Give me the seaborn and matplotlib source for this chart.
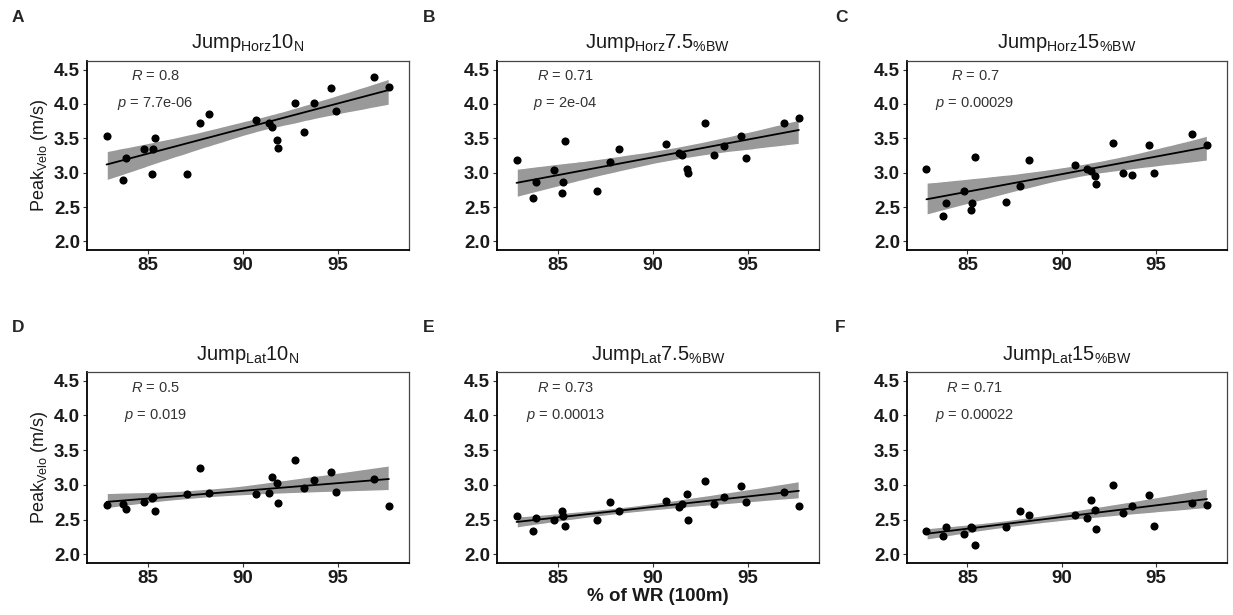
import numpy as np
import pandas as pd
import matplotlib
matplotlib.use("Agg")
import matplotlib.pyplot as plt
from matplotlib.collections import PolyCollection
import seaborn as sns

# % of world record (100m) for each athlete, shared by all panels
wr_pct = [82.83, 83.71, 83.87, 84.82, 85.21, 85.26, 85.40, 87.04, 87.76, 88.24, 90.72,
          91.36, 91.55, 91.78, 91.83, 92.73, 93.24, 93.73, 94.63, 94.89, 96.90, 97.69]

# peak velocity (m/s) per condition
horz_10n = [3.54, 2.90, 3.21, 3.35, 2.98, 3.35, 3.50, 2.98, 3.72, 3.85, 3.76,
            3.73, 3.67, 3.48, 3.36, 4.02, 3.59, 4.01, 4.23, 3.90, 4.39, 4.25]
horz_75 = [3.19, 2.63, 2.87, 3.04, 2.71, 2.86, 3.46, 2.74, 3.15, 3.35, 3.42,
           3.28, 3.26, 3.06, 3.00, 3.73, 3.26, 3.39, 3.53, 3.21, 3.72, 3.80]
horz_15 = [3.06, 2.37, 2.56, 2.74, 2.45, 2.56, 3.23, 2.58, 2.81, 3.19, 3.11,
           3.05, 3.03, 2.95, 2.84, 3.43, 2.99, 2.97, 3.40, 3.00, 3.56, 3.41]
lat_10n = [2.71, 2.72, 2.65, 2.75, 2.81, 2.83, 2.63, 2.87, 3.24, 2.89, 2.87,
           2.89, 3.12, 3.02, 2.74, 3.36, 2.95, 3.07, 3.19, 2.90, 3.09, 2.70]
lat_75 = [2.55, 2.33, 2.52, 2.49, 2.62, 2.55, 2.41, 2.50, 2.75, 2.63, 2.77,
          2.68, 2.73, 2.87, 2.50, 3.06, 2.73, 2.83, 2.99, 2.75, 2.90, 2.70]
lat_15 = [2.34, 2.26, 2.40, 2.29, 2.40, 2.38, 2.14, 2.39, 2.62, 2.56, 2.56,
          2.53, 2.78, 2.64, 2.36, 3.00, 2.59, 2.70, 2.86, 2.41, 2.74, 2.71]

titles = [r"Jump$_{\mathrm{Horz}}$10$_{\mathrm{N}}$",
          r"Jump$_{\mathrm{Horz}}$7.5$_{\mathrm{\%BW}}$",
          r"Jump$_{\mathrm{Horz}}$15$_{\mathrm{\%BW}}$",
          r"Jump$_{\mathrm{Lat}}$10$_{\mathrm{N}}$",
          r"Jump$_{\mathrm{Lat}}$7.5$_{\mathrm{\%BW}}$",
          r"Jump$_{\mathrm{Lat}}$15$_{\mathrm{\%BW}}$"]
letters = ["A", "B", "C", "D", "E", "F"]
r_labels = ["0.8", "0.71", "0.7", "0.5", "0.73", "0.71"]
p_labels = ["7.7e-06", "2e-04", "0.00029", "0.019", "0.00013", "0.00022"]
series = [horz_10n, horz_75, horz_15, lat_10n, lat_75, lat_15]

sns.set_theme(style="white")
plt.rcParams["font.family"] = ["Liberation Sans", "DejaVu Sans"]
plt.rcParams["mathtext.fontset"] = "custom"
plt.rcParams["mathtext.rm"] = "Liberation Sans"
plt.rcParams["mathtext.it"] = "Liberation Sans:italic"

W, H = 1233, 615
fig = plt.figure(figsize=(W / 100, H / 100), dpi=100)

col_left = [87, 497, 907]
col_w = [322, 322, 320]
row_top = [61, 372]
row_h = [189, 191]
letter_x = [12, 423, 835]
letter_y = [18, 328]

for i in range(6):
    r, c = divmod(i, 3)
    ax = fig.add_axes([col_left[c] / W, 1 - (row_top[r] + row_h[r]) / H,
                       col_w[c] / W, row_h[r] / H])
    df = pd.DataFrame({"wr": wr_pct, "velo": series[i]})
    sns.regplot(data=df, x="wr", y="velo", ax=ax, ci=95, n_boot=2000, seed=3,
                scatter_kws={"s": 34, "color": "black", "alpha": 1,
                             "linewidths": 0, "zorder": 4},
                line_kws={"color": "black", "lw": 1.3, "zorder": 3})
    for coll in ax.collections:
        if isinstance(coll, PolyCollection):
            coll.set_facecolor("#999999")
            coll.set_alpha(1)
            coll.set_zorder(2)

    ax.set_xlim(81.8, 98.75)
    ax.set_ylim(1.875, 4.625)
    ax.set_xticks([85, 90, 95])
    ax.set_yticks([2.0, 2.5, 3.0, 3.5, 4.0, 4.5])
    ax.set_yticklabels(["2.0", "2.5", "3.0", "3.5", "4.0", "4.5"])
    ax.tick_params(axis="both", which="both", length=3, width=0.8, color="#333333",
                   labelsize=13.5, pad=2, bottom=True, left=True)
    for lab in ax.get_xticklabels() + ax.get_yticklabels():
        lab.set_fontweight("bold")
        lab.set_color("#1a1a1a")
    for side in ["left", "bottom"]:
        ax.spines[side].set_color("black")
        ax.spines[side].set_linewidth(1.3)
    for side in ["top", "right"]:
        ax.spines[side].set_color("#444444")
        ax.spines[side].set_linewidth(0.9)

    ax.set_title(titles[i], fontsize=14.5, pad=9, color="#1a1a1a")
    if c == 0:
        ax.set_ylabel(r"Peak$_{\mathrm{Velo}}$ (m/s)", fontsize=13, labelpad=3,
                      color="#1a1a1a")
    else:
        ax.set_ylabel("")
    if i == 4:
        ax.set_xlabel("% of WR (100m)", fontsize=13.5, fontweight="bold", labelpad=1,
                      color="#1a1a1a")
    else:
        ax.set_xlabel("")

    ax.text(85.4, 4.4, rf"$\it{{R}}$ = {r_labels[i]}", ha="center", va="center",
            fontsize=10.5, color="#333333")
    ax.text(85.4, 4.0, rf"$\it{{p}}$ = {p_labels[i]}", ha="center", va="center",
            fontsize=10.5, color="#333333")

    fig.text(letter_x[c] / W, 1 - letter_y[r] / H, letters[i], fontsize=12.5,
             fontweight="bold", ha="left", va="center")

fig.savefig("out.png", dpi=100)
